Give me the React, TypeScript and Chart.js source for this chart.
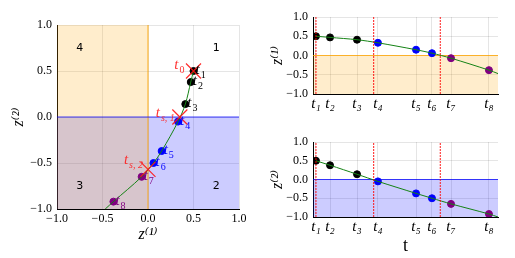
import React, { useEffect, useRef } from 'react';
import { Chart, registerables } from 'chart.js';
Chart.register(...registerables);

// ---------- data ----------
const sampleNumbers = ['1', '2', '3', '4', '5', '6', '7', '8'];
const timeTickLabels = ['t₁', 't₂', 't₃', 't₄', 't₅', 't₆', 't₇', 't₈'];
const sampleTimes = [0.16, 0.92, 2.38, 3.51, 5.57, 6.43, 7.46, 9.51];
const z1Values = [0.5, 0.47, 0.41, 0.33, 0.15, 0.06, -0.07, -0.38];
const z2Values = [0.5, 0.38, 0.14, -0.05, -0.37, -0.5, -0.65, -0.92];
const sampleMode = [0, 0, 0, 1, 1, 1, 2, 2];
const trajectoryEndTime = 10;
const trajectoryEndZ1 = -0.47;
const trajectoryEndZ2 = -1.0;
const switchNames = ['0', 's, 1', 's, 2'];
const switchTimes = [0.16, 3.28, 6.88];
const switchZ1 = [0.5, 0.35, 0.0];
const switchZ2 = [0.5, 0.0, -0.57];
const regionNames = ['1', '2', '3', '4'];
const regionZ1 = [0.75, 0.75, -0.75, -0.75];
const regionZ2 = [0.75, -0.75, -0.75, 0.75];
const axisMin = -1;
const axisMax = 1;
const axisStep = 0.5;
const timeMin = 0;
const timeMax = 10;

// ---------- style ----------
const modeColors = ['#000000', '#0000ff', '#800080'];
const GREEN = 'rgb(20,130,20)';
const RED = 'rgba(255,20,20,0.9)';
const ORANGE_FILL = 'rgba(255,165,0,0.2)';
const BLUE_FILL = 'rgba(0,0,255,0.2)';
const ORANGE_LINE = 'rgba(255,165,0,0.6)';
const BLUE_LINE = 'rgba(0,0,255,0.75)';
const GRID = 'rgba(0,0,0,0.1)';
const SERIF = '"Liberation Serif", "DejaVu Serif", serif';
const tickFont = { family: SERIF, size: 12 };
const CROSS_HALF = 7.5;
const switchLabelOffsets = [
  { dx: -9, dy: -2 },
  { dx: -5, dy: 0 },
  { dx: -5, dy: -5 },
];

const fmt = (v: number) => {
  const s = Math.abs(v).toFixed(1);
  return v < -1e-9 ? '\u2212' + s : s;
};

function drawIndexed(
  ctx: CanvasRenderingContext2D,
  x: number,
  y: number,
  sub: string,
  color: string,
  align: 'left' | 'right',
  subItalic: boolean
) {
  const mainFont = 'italic 15px ' + SERIF;
  const subFont = (subItalic ? 'italic ' : '') + '10px ' + SERIF;
  ctx.font = mainFont;
  const wm = ctx.measureText('t').width;
  ctx.font = subFont;
  const ws = ctx.measureText(sub).width;
  const left = align === 'right' ? x - wm - 1 - ws : x;
  ctx.fillStyle = color;
  ctx.textAlign = 'left';
  ctx.textBaseline = 'alphabetic';
  ctx.font = mainFont;
  ctx.fillText('t', left, y);
  ctx.font = subFont;
  ctx.fillText(sub, left + wm + 1, y + 4);
}

function regionPlugin(fillX: boolean, fillY: boolean, lineX: boolean, lineY: boolean, yFill: string, yLine: string) {
  return {
    id: 'regions',
    beforeDatasetsDraw(chart: any) {
      const { ctx, chartArea, scales } = chart;
      const { left, right, top, bottom } = chartArea;
      const x0 = scales.x.getPixelForValue(0);
      const y0 = scales.y.getPixelForValue(0);
      ctx.save();
      if (fillY) {
        ctx.fillStyle = yFill;
        ctx.fillRect(left, y0, right - left, bottom - y0);
      }
      if (fillX) {
        ctx.fillStyle = ORANGE_FILL;
        ctx.fillRect(left, top, x0 - left, bottom - top);
      }
      if (lineX) {
        ctx.strokeStyle = ORANGE_LINE;
        ctx.lineWidth = 1.5;
        ctx.beginPath();
        ctx.moveTo(x0, top);
        ctx.lineTo(x0, bottom);
        ctx.stroke();
      }
      if (lineY) {
        ctx.strokeStyle = yLine;
        ctx.lineWidth = 1;
        ctx.beginPath();
        ctx.moveTo(left, y0);
        ctx.lineTo(right, y0);
        ctx.stroke();
      }
      ctx.restore();
    },
  };
}

function valueAxis(widthPx: number, title: string, titlePad: number) {
  return {
    type: 'linear',
    min: axisMin,
    max: axisMax,
    ticks: { stepSize: axisStep, callback: (v: number) => fmt(v), font: tickFont, color: '#000', padding: 5 },
    grid: { color: GRID, drawTicks: false },
    border: { color: '#000', width: 1 },
    title: { display: true, text: title, font: { family: SERIF, size: 16, style: 'italic' }, color: '#000', padding: { top: titlePad, bottom: 0 } },
    afterFit: (s: any) => {
      s.width = widthPx;
    },
  };
}

function modeDatasets(xs: number[], ys: number[]) {
  return modeColors.map((c, m) => ({
    data: xs.map((x, i) => ({ x, y: ys[i] })).filter((_, i) => sampleMode[i] === m),
    backgroundColor: c,
    borderColor: c,
    pointRadius: 3.5,
    pointBorderWidth: 1,
    showLine: false,
  }));
}

function PhasePlot() {
  const ref = useRef<HTMLCanvasElement>(null);
  useEffect(() => {
    const traj = z1Values.map((x, i) => ({ x, y: z2Values[i] }));
    traj.push({ x: trajectoryEndZ1, y: trajectoryEndZ2 });
    const labelsPlugin = {
      id: 'labels',
      afterDatasetsDraw(chart: any) {
        const { ctx, scales } = chart;
        ctx.save();
        switchZ1.forEach((z1, i) => {
          const px = scales.x.getPixelForValue(z1);
          const py = scales.y.getPixelForValue(switchZ2[i]);
          ctx.strokeStyle = RED;
          ctx.lineWidth = 1.2;
          ctx.beginPath();
          ctx.moveTo(px - CROSS_HALF, py - CROSS_HALF);
          ctx.lineTo(px + CROSS_HALF, py + CROSS_HALF);
          ctx.moveTo(px - CROSS_HALF, py + CROSS_HALF);
          ctx.lineTo(px + CROSS_HALF, py - CROSS_HALF);
          ctx.stroke();
        });
        regionNames.forEach((n, i) => {
          ctx.font = '11px "DejaVu Sans", sans-serif';
          ctx.fillStyle = '#000';
          ctx.textAlign = 'center';
          ctx.textBaseline = 'middle';
          ctx.fillText(n, scales.x.getPixelForValue(regionZ1[i]), scales.y.getPixelForValue(regionZ2[i]));
        });
        sampleNumbers.forEach((n, i) => {
          const px = scales.x.getPixelForValue(z1Values[i]);
          const py = scales.y.getPixelForValue(z2Values[i]);
          drawIndexed(ctx, px + 2, py + 3, n, modeColors[sampleMode[i]], 'left', false);
        });
        switchNames.forEach((n, i) => {
          const px = scales.x.getPixelForValue(switchZ1[i]);
          const py = scales.y.getPixelForValue(switchZ2[i]);
          const o = switchLabelOffsets[i];
          drawIndexed(ctx, px + o.dx, py + o.dy, n, 'rgba(255,30,30,0.9)', 'right', i > 0);
        });
        ctx.restore();
      },
    };
    const chart = new Chart(ref.current!, {
      type: 'scatter',
      data: {
        datasets: [
          { data: traj, showLine: true, borderColor: GREEN, borderWidth: 1, pointRadius: 0, tension: 0.35 } as any,
          ...modeDatasets(z1Values, z2Values),
        ],
      },
      options: {
        animation: false,
        responsive: false,
        layout: { padding: { top: 25, right: 11, left: 0, bottom: 0 } },
        plugins: { legend: { display: false }, tooltip: { enabled: false } },
        scales: {
          x: {
            type: 'linear',
            min: axisMin,
            max: axisMax,
            ticks: { stepSize: axisStep, callback: (v: number) => fmt(v), font: tickFont, color: '#000', padding: 3 },
            grid: { color: GRID, drawTicks: false },
            border: { color: '#000', width: 1 },
            title: { display: true, text: 'z⁽¹⁾', font: { family: SERIF, size: 16, style: 'italic' }, color: '#000', padding: { top: 0, bottom: 14 } },
            afterFit: (s: any) => {
              s.height = 49;
            },
          },
          y: valueAxis(57, 'z⁽²⁾', 9),
        } as any,
      },
      plugins: [regionPlugin(true, true, true, true, BLUE_FILL, BLUE_LINE), labelsPlugin],
    });
    return () => chart.destroy();
  }, []);
  return <canvas ref={ref} width={250} height={258} style={{ position: 'absolute', left: 0, top: 0 }} />;
}

function TimePlot(props: { values: number[]; endValue: number; which: 1 | 2; top: number; height: number; padTop: number; xHeight: number; showT: boolean }) {
  const ref = useRef<HTMLCanvasElement>(null);
  useEffect(() => {
    const { values, endValue, which, padTop, xHeight, showT } = props;
    const traj = sampleTimes.map((t, i) => ({ x: t, y: values[i] }));
    traj.push({ x: trajectoryEndTime, y: endValue });
    const switchSets = switchTimes.map((t) => ({
      data: [
        { x: t, y: axisMin },
        { x: t, y: axisMax },
      ],
      showLine: true,
      borderColor: 'rgba(255,0,0,0.9)',
      borderWidth: 1,
      borderDash: [2, 1],
      pointRadius: 0,
    }));
    const chart = new Chart(ref.current!, {
      type: 'scatter',
      data: {
        datasets: [
          ...(switchSets as any),
          { data: traj, showLine: true, borderColor: GREEN, borderWidth: 1, pointRadius: 0, tension: 0.3 } as any,
          ...modeDatasets(sampleTimes, values),
        ],
      },
      options: {
        animation: false,
        responsive: false,
        layout: { padding: { top: padTop, right: 17, left: 0, bottom: 0 } },
        plugins: { legend: { display: false }, tooltip: { enabled: false } },
        scales: {
          x: {
            type: 'linear',
            min: timeMin,
            max: timeMax,
            afterBuildTicks: (s: any) => {
              s.ticks = sampleTimes.map((v) => ({ value: v }));
            },
            ticks: {
              callback: (_v: number, i: number) => timeTickLabels[i],
              font: { family: SERIF, size: 15, style: 'italic' },
              color: '#000',
              padding: 1,
              autoSkip: false,
              maxRotation: 0,
            },
            grid: { color: GRID, drawTicks: false },
            border: { color: '#000', width: 1 },
            title: { display: showT, text: 't', font: { family: SERIF, size: 18 }, color: '#000', padding: { top: 0, bottom: 1 } },
            afterFit: (s: any) => {
              s.height = xHeight;
            },
          },
          y: valueAxis(63, which === 1 ? 'z⁽¹⁾' : 'z⁽²⁾', 18),
        } as any,
      },
      plugins: [
        which === 1
          ? regionPlugin(false, true, false, true, ORANGE_FILL, 'rgba(255,165,0,0.8)')
          : regionPlugin(false, true, false, true, BLUE_FILL, BLUE_LINE),
      ],
    });
    return () => chart.destroy();
  }, []);
  return <canvas ref={ref} width={265} height={props.height} style={{ position: 'absolute', left: 250, top: props.top }} />;
}

export default function App() {
  return (
    <div style={{ position: 'absolute', left: 0, top: 0, width: 515, height: 258, background: '#fff' }}>
      <PhasePlot />
      <TimePlot values={z1Values} endValue={trajectoryEndZ1} which={1} top={0} height={120} padTop={17} xHeight={26} showT={false} />
      <TimePlot values={z2Values} endValue={trajectoryEndZ2} which={2} top={120} height={138} padTop={22} xHeight={41} showT={true} />
    </div>
  );
}
